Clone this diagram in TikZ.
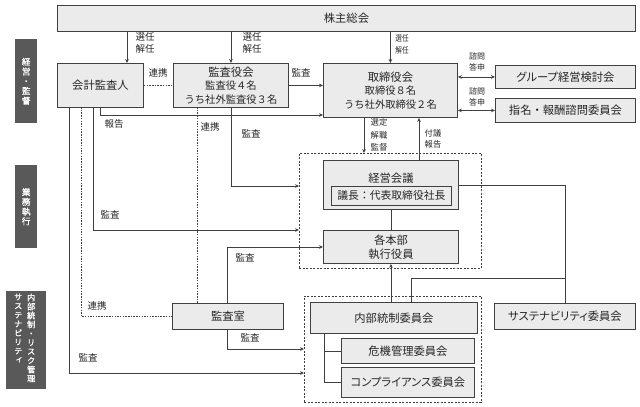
\documentclass[tikz,border=0pt]{standalone}
\usepackage{fontspec}
\setmainfont{Noto Sans CJK JP}
\newfontfamily\pfont[RawFeature=+palt]{Noto Sans CJK JP}
\newfontfamily\vfont[RawFeature=+vert,AutoFakeBold=1.2]{Noto Sans CJK JP}
\usetikzlibrary{arrows.meta,calc}
\definecolor{boxfill}{HTML}{EBEBEB}
\definecolor{boxline}{HTML}{404040}
\definecolor{txt}{HTML}{262626}
\definecolor{lblfill}{HTML}{595959}
\tikzset{
  box/.style={draw=boxline, fill=boxfill, line width=0.9pt, inner sep=0pt, text=txt,
    font=\fontsize{11.3}{14}\selectfont, anchor=north west, align=center},
  ln/.style={draw=boxline, line width=0.75pt},
  arr/.style={ln, -{Stealth[length=4pt,width=3.6pt]}},
  darr/.style={ln, {Stealth[length=4pt,width=3.6pt]}-{Stealth[length=4pt,width=3.6pt]}},
  dotl/.style={ln, dash pattern=on 1.5pt off 1.2pt},
  zone/.style={draw=boxline, line width=0.7pt, dash pattern=on 2pt off 1.5pt, anchor=north west, inner sep=0pt},
  lbl/.style={text=txt, font=\fontsize{9.5}{12}\selectfont, inner sep=0pt, align=center},
  slbl/.style={text=txt, font=\fontsize{8.3}{12}\selectfont, inner sep=0pt, align=center},
  side/.style={fill=lblfill, draw=none, anchor=north west, inner sep=0pt},
  vtx/.style={text=white, font=\vfont\bfseries\fontsize{8.6}{9.7}\selectfont, align=center, inner sep=0pt},
  vtxs/.style={text=white, font=\vfont\bfseries\fontsize{8.2}{9}\selectfont, align=center, inner sep=0pt},
}
\begin{document}
\begin{tikzpicture}[x=1pt,y=-1pt]
\useasboundingbox (0,0) rectangle (640,407);
% side labels
\node[side, minimum width=22pt, minimum height=84pt] (s1) at (15,39) {};
\node[vtx] at (s1.center) {経\\営\\・\\監\\督};
\node[side, minimum width=22pt, minimum height=83pt] (s2) at (15,165) {};
\node[vtx] at (s2.center) {業\\務\\執\\行};
\node[side, minimum width=40pt, minimum height=98pt] (s3) at (6,291) {};
\node[vtxs, anchor=north] at ($(s3.north)+(5,2.5)$) {内\\部\\統\\制\\・\\リ\\ス\\ク\\管\\理};
\node[vtxs, anchor=north] at ($(s3.north)+(-8,2.5)$) {サ\\ス\\テ\\ナ\\ビ\\リ\\テ\\ィ};
% zones
\node[zone, minimum width=182pt, minimum height=115pt] (z1) at (299,153) {};
\node[zone, minimum width=177pt, minimum height=106pt] (z2) at (304,296) {};
% boxes
\node[box, minimum width=578pt, minimum height=26pt] (sh) at (57,5) {株主総会};
\node[box, minimum width=86pt, minimum height=44pt] (kaikei) at (57,63) {会計監査人};
\node[box, minimum width=115pt, minimum height=44pt] (kansa) at (173,63)
  {監査役会\\[-1.5pt]{\fontsize{10.3}{12.5}\selectfont 監査役４名}\\{\fontsize{10.3}{12.5}\selectfont うち社外監査役３名}};
\node[box, minimum width=134pt, minimum height=54pt] (tori) at (323,63)
  {取締役会\\[-1pt]{\fontsize{10.3}{12.8}\selectfont 取締役８名}\\{\fontsize{10.3}{12.8}\selectfont うち社外取締役２名}};
\node[box, minimum width=140pt, minimum height=23pt] (group) at (495,65) {\pfont グループ経営検討会};
\node[box, minimum width=140pt, minimum height=24pt] (shimei) at (495,98) {指名・報酬諮問委員会};
\node[box, minimum width=135pt, minimum height=49pt] (keiei) at (323,160) {};
\node[text=txt, font=\fontsize{11.3}{14}\selectfont, inner sep=0pt] (keieit) at ($(keiei.north)+(0,18)$) {経営会議};
\node[box, minimum width=120pt, minimum height=19pt, line width=0.8pt, font=\fontsize{10.8}{13}\selectfont] (gicho) at (331,186) {議長：代表取締役社長};
\node[box, minimum width=135pt, minimum height=33pt] (honbu) at (323,230) {各本部\\執行役員};
\node[box, minimum width=111pt, minimum height=26pt] (shitsu) at (172,303) {監査室};
\node[box, minimum width=167pt, minimum height=31pt] (naibu) at (310,302) {内部統制委員会};
\node[box, minimum width=133pt, minimum height=25pt] (kiki) at (341,338) {危機管理委員会};
\node[box, minimum width=133pt, minimum height=30pt] (comp) at (341,367) {\pfont コンプライアンス委員会};
\node[box, minimum width=141pt, minimum height=26pt] (sus) at (494,303) {\pfont サステナビリティ委員会};
% named coordinates
\coordinate (c1) at (127,63);
\coordinate (c2) at (364,153);
\coordinate (c3) at (419,160);
\coordinate (rep) at (323,115);
\coordinate (a93) at (93,107);
\coordinate (a81) at (81,107);
\coordinate (a69) at (69,107);
\coordinate (a197) at (197,107);
\coordinate (kz1) at (299,186);
\coordinate (kz2) at (299,230);
\coordinate (sh227) at (227,303);
\coordinate (sb227) at (227,329);
\coordinate (hz) at (323,247);
\coordinate (z2a) at (304,349);
\coordinate (z2b) at (304,373);
\coordinate (br) at (565,278);
\coordinate (n411) at (411,302);
\coordinate (t324) at (324,333);
% connectors
\draw[arr] (sh.south -| c1) -- (c1);
\draw[arr] (sh.south -| kansa.north) -- (kansa.north);
\draw[arr] (sh.south -| tori.north) -- (tori.north);
\draw[dotl] (kaikei.east) -- (kansa.west);
\draw[arr] (kansa.east) -- (kansa.east -| tori.west);
\draw[arr] (kaikei.south) |- (rep);
\draw[darr] (tori.east |- group.west) -- (group.west);
\draw[darr] (tori.east |- shimei.west) -- (shimei.west);
\draw[arr] (tori.south -| c2) -- (c2);
\draw[arr] (c3) -- (tori.south -| c3);
\draw[arr] (kansa.south) |- (kz1);
\draw[arr] (a93) |- (kz2);
\draw[dotl] (a81) |- (shitsu.west);
\draw[arr] (a69) |- (z2b);
\draw[dotl] (a197) -- (shitsu.north -| a197);
\draw[arr] (sh227) |- (hz);
\draw[arr] (sb227) |- (z2a);
\draw[ln] (keiei.south) -- (honbu.north);
\draw[arr] (naibu.north -| honbu.south) -- (honbu.south);
\draw[ln] (keiei.east) -| (sus.north);
\draw[ln] (br) -| (n411);
\draw[ln] (t324) |- (comp.west);
\draw[ln] (t324 |- kiki.west) -- (kiki.west);
% labels
\node[lbl] at (145,43) {選任\\解任};
\node[lbl] at (252,43) {選任\\解任};
\node[slbl, xscale=0.8] at (402,44) {選任\\解任};
\node[lbl] at (158,73) {連携};
\node[lbl] at (301,73) {監査};
\node[lbl] at (114,124) {報告};
\node[lbl] at (210,127) {連携};
\node[lbl] at (251,134) {監査};
\node[slbl, font=\fontsize{8.3}{12.5}\selectfont] at (379,135) {選定\\解職\\監督};
\node[slbl, font=\fontsize{8.3}{11}\selectfont] at (433,139) {付議\\報告};
\node[slbl, font=\fontsize{8}{10.5}\selectfont] at (477,62) {諮問\\答申};
\node[slbl, font=\fontsize{8}{10.5}\selectfont] at (477,97) {諮問\\答申};
\node[lbl] at (110,215) {監査};
\node[lbl] at (245,258) {監査};
\node[lbl] at (97,306) {連携};
\node[lbl] at (250,338) {監査};
\node[lbl] at (88,358) {監査};
\end{tikzpicture}
\end{document}
